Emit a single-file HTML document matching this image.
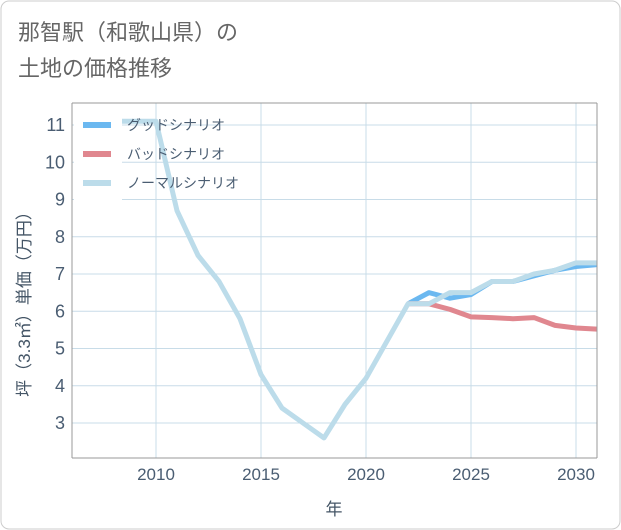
<!DOCTYPE html>
<html><head><meta charset="utf-8"><style>
body{margin:0;background:#fff;}
svg{display:block;font-family:"Liberation Sans","Noto Sans CJK JP",sans-serif;}
</style></head><body>
<svg width="621" height="530">
<rect x="1" y="1" width="619" height="528" rx="8" fill="#fff" stroke="#ccc"/>
<text x="18" y="40" font-size="22" fill="#666">那智駅（和歌山県）の</text>
<text x="18" y="76" font-size="22" fill="#666">土地の価格推移</text>
<g id="grid"></g>
<g id="series"></g>
<rect x="74" y="110" width="48" height="90" fill="#fff"/>
<g id="legend"></g>
<line x1="72" y1="103" x2="72" y2="458" stroke="#999"/>
<line x1="597" y1="103" x2="597" y2="458" stroke="#999"/>
<line x1="72" y1="103" x2="597" y2="103" stroke="#999"/>
<line x1="72" y1="458" x2="597" y2="458" stroke="#999"/>
<text x="334" y="515" font-size="17" fill="#456" text-anchor="middle">年</text>
<text transform="translate(30,300) rotate(-90)" font-size="17" fill="#456" text-anchor="middle">坪（3.3㎡）単価（万円）</text>
</svg>
<script>
const years=[2008,2009,2010,2011,2012,2013,2014,2015,2016,2017,2018,2019,2020,2021,2022,2023,2024,2025,2026,2027,2028,2029,2030,2031];
const normal=[11.1,11.1,11.1,8.7,7.5,6.8,5.8,4.3,3.4,3.0,2.6,3.5,4.2,5.2,6.2,6.2,6.5,6.5,6.8,6.8,7.0,7.1,7.3,7.3];
const fYears=[2022,2023,2024,2025,2026,2027,2028,2029,2030,2031];
const good=[6.2,6.5,6.35,6.45,6.8,6.8,6.95,7.1,7.2,7.25];
const bad=[6.2,6.2,6.05,5.85,5.83,5.8,5.83,5.62,5.55,5.52];
const xTicks=[2010,2015,2020,2025,2030];
const yTicks=[3,4,5,6,7,8,9,10,11];
const X=y=>156+(y-2010)*21;
const Y=v=>125-(v-11)*37.25;
const NS="http://www.w3.org/2000/svg";
function mk(t,a,p){const e=document.createElementNS(NS,t);for(const k in a)e.setAttribute(k,a[k]);p.appendChild(e);return e;}
const grid=document.getElementById('grid');
yTicks.forEach(v=>{
 const l=mk('line',{x1:72,x2:597,y1:Y(v),y2:Y(v),stroke:'#c8dce8'},grid);
 
 
 const t=mk('text',{x:65,y:Y(v)+6,'font-size':18,fill:'#4a5d72','text-anchor':'end'},grid);
 t.textContent=v;
 
 
});
xTicks.forEach(v=>{
 const l=mk('line',{x1:X(v),x2:X(v),y1:103,y2:458,stroke:'#c8dce8'},grid);
 
 
 const t=mk('text',{x:X(v),y:480,'font-size':17,fill:'#4a5d72','text-anchor':'middle'},grid);
 t.textContent=v;
 
 
});
const sg=document.getElementById('series');
function line(xs,vs,col,name){
 const p=mk('polyline',{points:xs.map((y,i)=>X(y)+','+Y(vs[i])).join(' '),fill:'none',stroke:col,'stroke-width':5,'stroke-linejoin':'round'},sg);
 
 
}
line(fYears,good,'#6bb8f0','good-scenario-line');
line(fYears,bad,'#e0878f','bad-scenario-line');
line(years,normal,'#bcdcea','normal-scenario-line');
const lg=document.getElementById('legend');
[['グッドシナリオ','#6bb8f0'],['バッドシナリオ','#e0878f'],['ノーマルシナリオ','#bcdcea']].forEach((d,i)=>{
 const y=125+i*29;
 const r=mk('rect',{x:83,y:y-3,width:28,height:6,fill:d[1]},lg);
 
 
 const t=mk('text',{x:127,y:y+5,'font-size':14,fill:'#4a5d72'},lg);
 t.textContent=d[0];
 
 
});
</script>
</body></html>
